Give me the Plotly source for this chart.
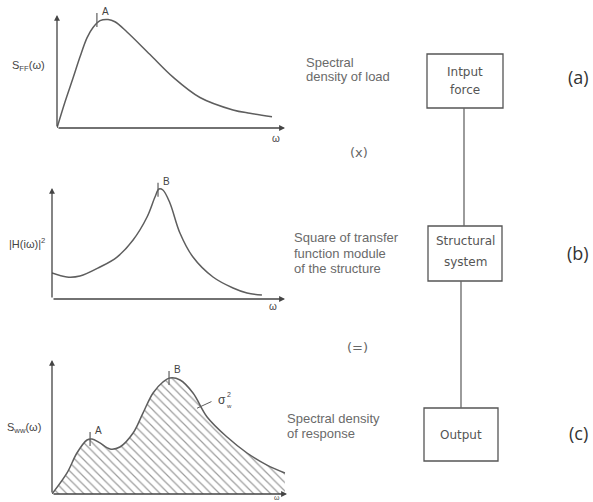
import plotly.graph_objects as go

W, H = 593, 502

# ---------------- data ----------------
# (a) spectral density of load S_FF(w)
w_load = [0, 0.35, 0.70, 1.01, 1.32, 1.58, 1.89, 2.24, 2.54, 3.07, 4.08, 5.09, 6.27, 7.72, 8.46, 9.43]
s_load = [0, 0.23, 0.44, 0.63, 0.80, 0.89, 0.95, 0.96, 0.94, 0.85, 0.65, 0.45, 0.27, 0.16, 0.13, 0.10]
peak_load = {"w": [1.75], "s": [0.955], "label": ["A"]}

# (b) square of transfer function |H(iw)|^2
w_tf = [0, 0.64, 1.20, 2.06, 2.79, 3.48, 4.08, 4.42, 4.59, 4.76, 5.06, 5.49, 6.05, 6.91, 7.77, 8.37, 9.01]
h_tf = [0.234, 0.198, 0.207, 0.288, 0.378, 0.532, 0.739, 0.919, 0.991, 0.982, 0.865, 0.595, 0.378, 0.198, 0.099, 0.054, 0.036]
peak_tf = {"w": [4.55], "s": [0.985], "label": ["B"]}

# (c) spectral density of response S_ww(w)
w_resp = [0, 0.64, 1.06, 1.49, 1.70, 2.04, 2.47, 2.89, 3.45, 3.87, 4.30, 4.72, 5.02, 5.45, 6.00, 6.60, 7.45, 8.30, 9.15, 9.91]
s_resp = [0, 0.157, 0.306, 0.403, 0.410, 0.381, 0.336, 0.351, 0.455, 0.604, 0.754, 0.836, 0.866, 0.851, 0.754, 0.575, 0.425, 0.306, 0.216, 0.157]
peak_resp = {"w": [1.62, 4.98], "s": [0.41, 0.866], "label": ["A", "B"]}

axis_labels = ["S<sub>FF</sub>(ω)", "|H(iω)|<sup>2</sup>", "S<sub>ww</sub>(ω)"]
left_texts = [
    ["Spectral", "density of load"],
    ["Square of transfer", "function module", "of the structure"],
    ["Spectral density", "of response"],
]
box_texts = [["Intput", "force"], ["Structural", "system"], ["Output"]]
operators = ["(x)", "(=)"]
panel_tags = ["(a)", "(b)", "(c)"]


def px(x):
    return x / W


def py(y):
    return 1 - y / H


CURVE = "#5e5e5e"
AXIS = "#444444"
TXT = "#6a6a6a"

fig = go.Figure()

# panel geometry in pixels: (x0, x1, ybottom, ytop)
panels = [(57, 285, 128, 15), (52, 285, 299, 188), (52, 287, 494, 360)]
names = ["", "2", "3"]
for i, (x0, x1, yb, yt) in enumerate(panels):
    fig.layout["xaxis" + names[i]] = dict(domain=[px(x0), px(x1)], range=[0, 10], visible=False,
                                          anchor="y" + names[i], fixedrange=True)
    fig.layout["yaxis" + names[i]] = dict(domain=[py(yb), py(yt)], range=[0, 1], visible=False,
                                          anchor="x" + names[i], fixedrange=True)

series = [(w_load, s_load, peak_load), (w_tf, h_tf, peak_tf), (w_resp, s_resp, peak_resp)]
for i, (wx, sy, pk) in enumerate(series):
    xa, ya = "x" + names[i], "y" + names[i]
    if i == 2:
        fig.add_trace(go.Scatter(
            x=wx, y=sy, xaxis=xa, yaxis=ya, mode="lines", line=dict(color=CURVE, width=1.5, shape="spline"),
            fill="tozeroy", fillcolor="rgba(255,255,255,0)",
            fillpattern=dict(shape="\\", fgcolor="#3a3a3a", bgcolor="rgba(255,255,255,0)", size=6, solidity=0.2),
            hoverinfo="skip", showlegend=False))
    else:
        fig.add_trace(go.Scatter(
            x=wx, y=sy, xaxis=xa, yaxis=ya, mode="lines", line=dict(color=CURVE, width=1.5, shape="spline"),
            hoverinfo="skip", showlegend=False))
    # peak tick marks
    fig.add_trace(go.Scatter(
        x=pk["w"], y=pk["s"], xaxis=xa, yaxis=ya, mode="markers",
        marker=dict(symbol="line-ns-open", size=10, color=CURVE, line=dict(color=CURVE, width=1.2)),
        cliponaxis=False, hoverinfo="skip", showlegend=False))
    for wv, sv, lab in zip(pk["w"], pk["s"], pk["label"]):
        fig.add_annotation(x=wv, y=sv, xref=xa, yref=ya, text=lab, showarrow=False,
                           xanchor="left", yanchor="bottom", xshift=3, yshift=1,
                           font=dict(size=10, color="#444", family="Liberation Sans"))
    # axes with arrows
    for tip, tail in (((10, 0), (0, 0)), ((0, 1), (0, 0))):
        fig.add_annotation(x=tip[0], y=tip[1], ax=tail[0], ay=tail[1], xref=xa, yref=ya, axref=xa, ayref=ya,
                           text="", showarrow=True, arrowhead=2, arrowsize=0.9, arrowwidth=1.3,
                           arrowcolor=AXIS, standoff=0, startstandoff=0)

# sigma^2 pointer on panel 3
fig.add_annotation(x=6.17, y=0.64, ax=6.85, ay=0.695, xref="x3", yref="y3", axref="x3", ayref="y3",
                   text="", showarrow=True, arrowhead=0, arrowwidth=1, arrowcolor=CURVE)
fig.add_annotation(x=7.25, y=0.70, xref="x3", yref="y3", text="σ", showarrow=False,
                   xanchor="center", yanchor="middle",
                   font=dict(size=12, color="#444", family="Liberation Sans"))
fig.add_annotation(x=7.55, y=0.745, xref="x3", yref="y3", text="2", showarrow=False,
                   xanchor="center", yanchor="middle",
                   font=dict(size=7, color="#444", family="Liberation Sans"))
fig.add_annotation(x=7.55, y=0.655, xref="x3", yref="y3", text="w", showarrow=False,
                   xanchor="center", yanchor="middle",
                   font=dict(size=6, color="#444", family="Liberation Sans"))

# axis labels
label_pos = [(28, 66), (27, 243), (24, 428)]
for t, (x, y) in zip(axis_labels, label_pos):
    fig.add_annotation(x=px(x), y=py(y), xref="paper", yref="paper", text=t, showarrow=False,
                       xanchor="center", yanchor="middle",
                       font=dict(size=11, color="#444", family="Liberation Sans"))
# omega labels
for (x, y, s) in [(276, 138, 10), (273, 306, 10), (277, 497.5, 7)]:
    fig.add_annotation(x=px(x), y=py(y), xref="paper", yref="paper", text="ω", showarrow=False,
                       xanchor="center", yanchor="middle",
                       font=dict(size=s, color="#444", family="Liberation Sans"))

# left descriptive texts
text_pos = [(304, [62, 77]), (292, [237, 253, 268]), (285, [418, 433])]
for lines, (x, ys) in zip(left_texts, text_pos):
    for line, y in zip(lines, ys):
        fig.add_annotation(x=px(x), y=py(y), xref="paper", yref="paper", text=line, showarrow=False,
                           xanchor="left", yanchor="middle",
                           font=dict(size=13, color=TXT, family="Liberation Sans"))

# boxes
boxes = [(427, 503, 54, 108), (428, 502, 226, 281), (424, 498, 408, 461)]
box_text_y = [[72, 90], [241, 262], [435]]
for (x0, x1, y0, y1), lines, ys in zip(boxes, box_texts, box_text_y):
    fig.add_shape(type="rect", xref="paper", yref="paper", x0=px(x0), x1=px(x1), y0=py(y0), y1=py(y1),
                  line=dict(color="#555", width=1.3), fillcolor="rgba(0,0,0,0)")
    for line, y in zip(lines, ys):
        fig.add_annotation(x=px((x0 + x1) / 2), y=py(y), xref="paper", yref="paper", text=line,
                           showarrow=False, xanchor="center", yanchor="middle",
                           font=dict(size=12, color="#555", family="DejaVu Sans"))
# connectors
for x, y0, y1 in [(464, 108, 226), (461, 281, 408)]:
    fig.add_shape(type="line", xref="paper", yref="paper", x0=px(x), x1=px(x), y0=py(y0), y1=py(y1),
                  line=dict(color="#666", width=1.3))

# operators
for t, (x, y) in zip(operators, [(359, 153), (357, 347)]):
    fig.add_annotation(x=px(x), y=py(y), xref="paper", yref="paper", text=t, showarrow=False,
                       xanchor="center", yanchor="middle",
                       font=dict(size=13, color="#666", family="DejaVu Sans"))
# panel tags
for t, y in zip(panel_tags, [77, 253, 433]):
    fig.add_annotation(x=px(578), y=py(y), xref="paper", yref="paper", text=t, showarrow=False,
                       xanchor="center", yanchor="middle",
                       font=dict(size=18, color="#333", family="Open Sans"))

fig.update_layout(width=W, height=H, margin=dict(l=0, r=0, t=0, b=0),
                  paper_bgcolor="white", plot_bgcolor="rgba(0,0,0,0)", showlegend=False)

fig.write_html("out.html")
